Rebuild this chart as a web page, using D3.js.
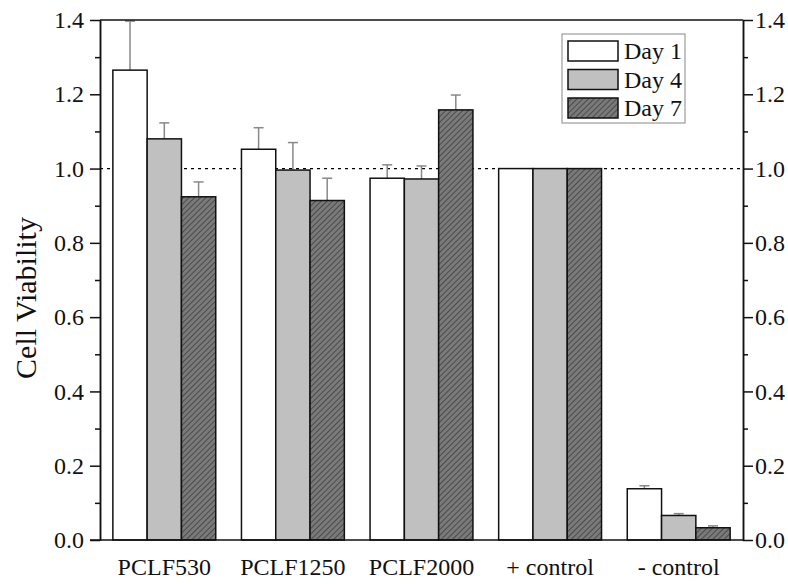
<!DOCTYPE html>
<html>
<head>
<meta charset="utf-8">
<script src="https://cdn.jsdelivr.net/npm/d3@7"></script>
<style>
  body { margin: 0; background: #fff; }
</style>
</head>
<body>
<div id="chart"></div>
<script>
const groups = ['PCLF530', 'PCLF1250', 'PCLF2000', '+ control', '- control'];
const days = ['Day 1', 'Day 4', 'Day 7'];
const day1 = [1.265, 1.052, 0.974, 1.0, 0.138];
const day4 = [1.080, 0.996, 0.972, 1.0, 0.066];
const day7 = [0.924, 0.914, 1.158, 1.0, 0.033];
// upper error bar ends, null = no bar
const day1Err = [1.397, 1.110, 1.010, null, 0.146];
const day4Err = [1.123, 1.070, 1.007, null, 0.071];
const day7Err = [0.964, 0.974, 1.198, null, 0.038];
const yTicks = [0, 0.2, 0.4, 0.6, 0.8, 1.0, 1.2, 1.4];

const FONT = '"Liberation Serif", "Times New Roman", serif';
const width = 788, height = 584;
const margin = { top: 20, right: 45, bottom: 44, left: 100 };
const plotW = width - margin.left - margin.right;
const plotH = height - margin.top - margin.bottom;

const svg = d3.select('#chart').append('svg').attr('width', width).attr('height', height);

const defs = svg.append('defs');
const pat = defs.append('pattern')
    .attr('id', 'hatch')
    .attr('patternUnits', 'userSpaceOnUse')
    .attr('width', 4).attr('height', 4)
    .attr('patternTransform', 'rotate(45)');
pat.append('rect').attr('width', 4).attr('height', 4).attr('fill', '#7a7a7a');
pat.append('line').attr('x1', 0).attr('y1', 0).attr('x2', 0).attr('y2', 4)
    .attr('stroke', '#2a2a2a').attr('stroke-width', 1.2);

const series = [
    { name: days[0], values: day1, err: day1Err, fill: '#ffffff' },
    { name: days[1], values: day4, err: day4Err, fill: '#c0c0c0' },
    { name: days[2], values: day7, err: day7Err, fill: 'url(#hatch)' }
];

const g = svg.append('g').attr('transform', `translate(${margin.left},${margin.top})`);

const x0 = d3.scaleBand().domain(groups).range([0, plotW]).paddingInner(0.2).paddingOuter(0.1);
const x1 = d3.scaleBand().domain(days).range([0, x0.bandwidth()]);
const y = d3.scaleLinear().domain([0, 1.4]).range([plotH, 0]);

// reference line at 1.0
g.append('line')
    .attr('x1', 0).attr('x2', plotW)
    .attr('y1', y(1)).attr('y2', y(1))
    .attr('stroke', '#000').attr('stroke-width', 1.2)
    .attr('stroke-dasharray', '3,4');

// error bars (drawn under bars)
series.forEach(s => {
    groups.forEach((grp, i) => {
        if (s.err[i] == null) return;
        const cx = x0(grp) + x1(s.name) + x1.bandwidth() / 2;
        g.append('line')
            .attr('x1', cx).attr('x2', cx)
            .attr('y1', y(s.values[i])).attr('y2', y(s.err[i]))
            .attr('stroke', '#888').attr('stroke-width', 1.5);
        g.append('line')
            .attr('x1', cx - 5).attr('x2', cx + 5)
            .attr('y1', y(s.err[i])).attr('y2', y(s.err[i]))
            .attr('stroke', '#888').attr('stroke-width', 1.5);
    });
});

// bars
series.forEach(s => {
    g.selectAll(null)
        .data(groups)
        .enter().append('rect')
        .attr('x', d => x0(d) + x1(s.name))
        .attr('y', (d, i) => y(s.values[i]))
        .attr('width', x1.bandwidth())
        .attr('height', (d, i) => y(0) - y(s.values[i]))
        .attr('fill', s.fill)
        .attr('stroke', '#111')
        .attr('stroke-width', 1.5);
});

// axes
const minor = d3.range(0.1, 1.4, 0.2);
const styleAxis = sel => {
    sel.attr('font-family', null);
    sel.select('.domain').attr('stroke', '#111').attr('stroke-width', 1.5);
    sel.selectAll('.tick line').attr('stroke', '#111').attr('stroke-width', 1.5);
    sel.selectAll('.tick text').style('font-family', FONT)
        .style('font-size', '24px').attr('fill', '#111');
};

g.append('g')
    .call(d3.axisLeft(y).tickValues(yTicks).tickFormat(d3.format('.1f')).tickSize(10).tickSizeOuter(0).tickPadding(6))
    .call(styleAxis);
g.append('g')
    .call(d3.axisLeft(y).tickValues(minor).tickFormat('').tickSize(5).tickSizeOuter(0))
    .call(styleAxis);

g.append('g')
    .attr('transform', `translate(${plotW},0)`)
    .call(d3.axisRight(y).tickValues(yTicks).tickFormat(d3.format('.1f')).tickSize(10).tickSizeOuter(0).tickPadding(2))
    .call(styleAxis);
g.append('g')
    .attr('transform', `translate(${plotW},0)`)
    .call(d3.axisRight(y).tickValues(minor).tickFormat('').tickSize(5).tickSizeOuter(0))
    .call(styleAxis);

// bottom axis line extended to left tick
g.append('line')
    .attr('x1', -10).attr('x2', plotW)
    .attr('y1', plotH).attr('y2', plotH)
    .attr('stroke', '#111').attr('stroke-width', 1.5);
// top border
g.append('line')
    .attr('x1', 0).attr('x2', plotW)
    .attr('y1', 0).attr('y2', 0)
    .attr('stroke', '#111').attr('stroke-width', 1.5);

// category labels
g.selectAll('.cat')
    .data(groups)
    .enter().append('text')
    .attr('x', d => x0(d) + x0.bandwidth() / 2)
    .attr('y', plotH + 35)
    .attr('text-anchor', 'middle')
    .style('font-family', FONT)
    .style('font-size', '24px')
    .attr('fill', '#111')
    .text(d => d);

// y title
svg.append('text')
    .attr('transform', `translate(36,298) rotate(-90)`)
    .attr('text-anchor', 'middle')
    .style('font-family', FONT)
    .style('font-size', '30px')
    .attr('fill', '#111')
    .text('Cell Viability');

// legend
const legend = svg.append('g').attr('transform', 'translate(562,34)');
legend.append('rect')
    .attr('width', 123).attr('height', 89)
    .attr('fill', '#fff').attr('stroke', '#888').attr('stroke-width', 1);
series.forEach((s, i) => {
    legend.append('rect')
        .attr('x', 6).attr('y', 7 + i * 28.5)
        .attr('width', 50).attr('height', 20)
        .attr('fill', s.fill).attr('stroke', '#111').attr('stroke-width', 1.5);
    legend.append('text')
        .attr('x', 62).attr('y', 25 + i * 28.5)
        .style('font-family', FONT)
        .style('font-size', '24px')
        .attr('fill', '#111')
        .text(s.name);
});
</script>
</body>
</html>
